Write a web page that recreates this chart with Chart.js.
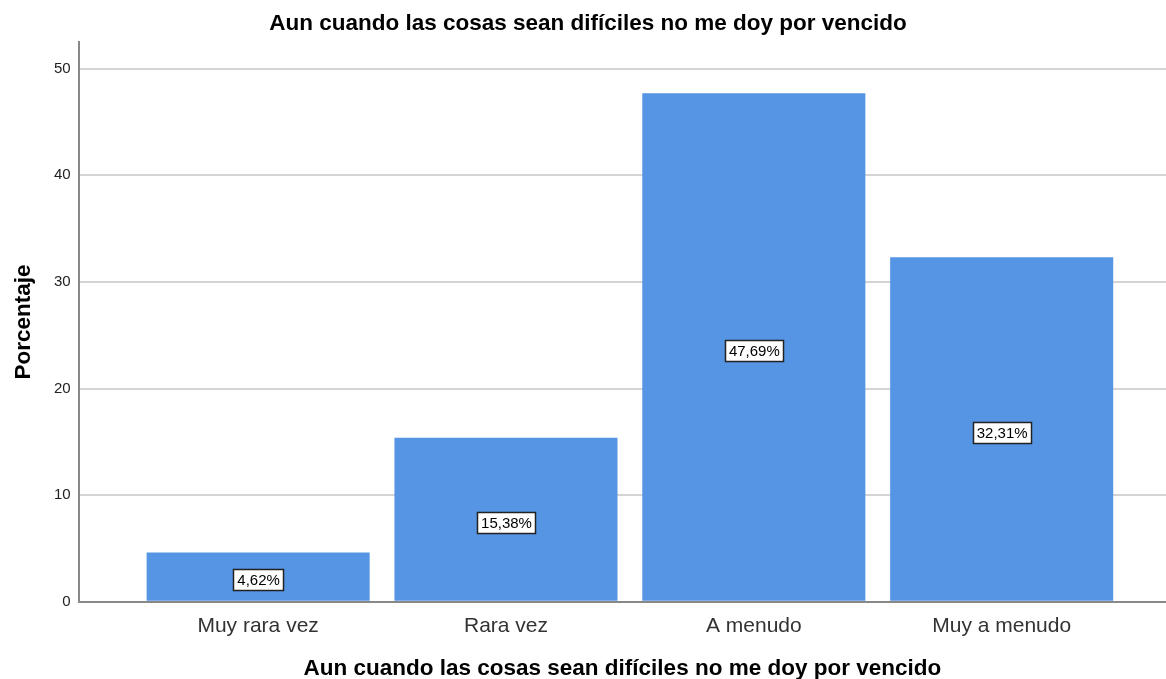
<!DOCTYPE html>
<html lang="es">
<head>
    <meta charset="UTF-8" />
    <title>Aun cuando las cosas sean difíciles</title>
    <script src="https://cdn.jsdelivr.net/npm/chart.js"></script>
    <style>
        html, body { margin: 0; padding: 0; background: #fff; }
        #wrap { width: 1166px; height: 679px; }
    </style>
</head>
<body>
    <div id="wrap"><canvas id="chart"></canvas></div>

    <script>
        const categorias = ['Muy rara vez', 'Rara vez', 'A menudo', 'Muy a menudo'];
        const porcentajes = [4.62, 15.38, 47.69, 32.31];
        const etiquetas = ['4,62%', '15,38%', '47,69%', '32,31%'];
        const titulo = 'Aun cuando las cosas sean difíciles no me doy por vencido';

        const fuente = "'Liberation Sans', Arial, sans-serif";

        // cajitas blancas con el porcentaje en el centro de cada barra
        const cajas = {
            id: 'cajas',
            afterDatasetsDraw(chart) {
                const ctx = chart.ctx;
                const meta = chart.getDatasetMeta(0);
                ctx.save();
                ctx.font = '15px ' + fuente;
                ctx.textAlign = 'center';
                ctx.textBaseline = 'middle';
                meta.data.forEach((bar, i) => {
                    const txt = etiquetas[i];
                    const cy = (bar.y + bar.base) / 2 + 3;
                    const w = Math.round(ctx.measureText(txt).width + 7);
                    const h = 21;
                    const x0 = Math.round(bar.x - w / 2);
                    const y0 = Math.round(cy - h / 2);
                    ctx.fillStyle = '#fff';
                    ctx.fillRect(x0, y0, w, h);
                    ctx.strokeStyle = '#222';
                    ctx.lineWidth = 1.5;
                    ctx.strokeRect(x0 + 0.5, y0 + 0.5, w, h);
                    ctx.fillStyle = '#000';
                    ctx.fillText(txt, bar.x + 0.5, cy + 1.5);
                });
                ctx.restore();
            }
        };

        const ctx = document.getElementById('chart').getContext('2d');
        new Chart(ctx, {
            type: 'bar',
            data: {
                datasets: [{
                    data: porcentajes.map((v, i) => ({ x: i, y: v })),
                    backgroundColor: '#5595e3',
                    borderWidth: 0,
                    categoryPercentage: 1,
                    barPercentage: 0.9
                }]
            },
            options: {
                responsive: true,
                maintainAspectRatio: false,
                animation: false,
                layout: { padding: { top: 0, right: 0, bottom: -3, left: 10 } },
                plugins: {
                    legend: { display: false },
                    tooltip: { enabled: false },
                    title: {
                        display: true,
                        text: titulo,
                        color: '#000',
                        font: { family: fuente, size: 22.5, weight: 'bold' },
                        padding: { top: 10, bottom: 5 }
                    }
                },
                scales: {
                    x: {
                        type: 'linear',
                        offset: false,
                        min: -0.724,
                        max: 3.663,
                        grid: { display: false, drawTicks: false, offset: false },
                        border: { color: '#888', width: 2 },
                        ticks: {
                            stepSize: 1,
                            includeBounds: false,
                            autoSkip: false,
                            maxRotation: 0,
                            color: '#333',
                            padding: 12,
                            font: { family: fuente, size: 21 },
                            callback: v => categorias[v] || ''
                        },
                        title: {
                            display: true,
                            text: titulo,
                            color: '#000',
                            font: { family: fuente, size: 22.5, weight: 'bold' },
                            padding: { top: 4, bottom: 0 }
                        }
                    },
                    y: {
                        min: 0,
                        max: 52.5,
                        grid: { color: '#d4d4d4', lineWidth: 2, drawTicks: false },
                        border: { color: '#888', width: 2 },
                        ticks: {
                            stepSize: 10,
                            includeBounds: false,
                            color: '#222',
                            padding: 8,
                            font: { family: fuente, size: 15 }
                        },
                        title: {
                            display: true,
                            text: 'Porcentaje',
                            color: '#000',
                            font: { family: fuente, size: 22.5, weight: 'bold' },
                            padding: { top: 0, bottom: 9 }
                        }
                    }
                }
            },
            plugins: [cajas]
        });
    </script>
</body>
</html>
